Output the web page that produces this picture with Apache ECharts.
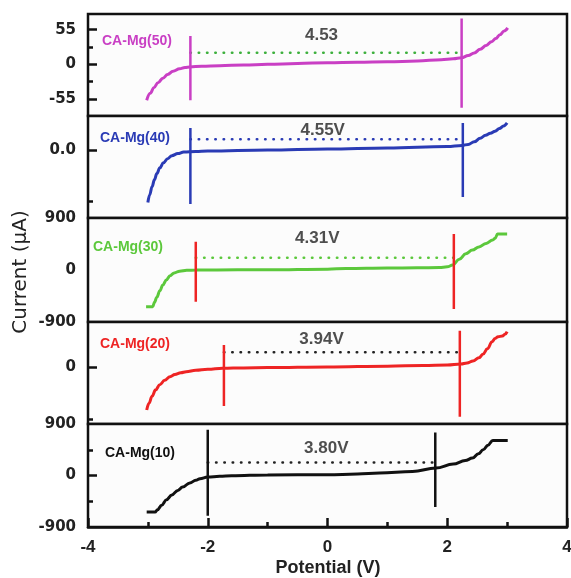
<!DOCTYPE html>
<html>
<head>
<meta charset="utf-8">
<style>
  html, body { margin: 0; padding: 0; background: #ffffff; }
  #chart { width: 571px; height: 578px; }
</style>
<script src="https://cdn.jsdelivr.net/npm/echarts@6/dist/echarts.min.js"></script>
</head>
<body>
<div id="chart"></div>
<script>
// Linear sweep voltammetry of the CA-Mg electrolytes, one stacked panel per sample.

const sampleNames = ['CA-Mg(50)', 'CA-Mg(40)', 'CA-Mg(30)', 'CA-Mg(20)', 'CA-Mg(10)'];

// [potential (V), current] pairs, in each panel's own current scale
const curve50 = [[-3.02, -57], [-2.96, -46], [-2.9, -37], [-2.83, -29], [-2.75, -22], [-2.67, -16],
  [-2.58, -11], [-2.47, -7], [-2.38, -5], [-2.3, -4], [-2.1, -3], [-1.8, -2], [-1.4, -1],
  [-1.0, 0], [-0.5, 1.5], [0, 2.5], [0.5, 3.2], [1.0, 4], [1.5, 5.5], [1.9, 7.5], [2.1, 9],
  [2.24, 10.5], [2.35, 14], [2.45, 18], [2.55, 24], [2.65, 30], [2.74, 36], [2.81, 41],
  [2.88, 47], [2.95, 53], [3.01, 58]];
const curve40 = [[-3.0, -1.03], [-2.97, -0.88], [-2.93, -0.72], [-2.89, -0.58], [-2.85, -0.46],
  [-2.8, -0.35], [-2.74, -0.25], [-2.67, -0.17], [-2.6, -0.11], [-2.5, -0.07], [-2.4, -0.04],
  [-2.2, -0.03], [-2.0, -0.02], [-1.0, 0], [0, 0.02], [1.0, 0.04], [2.0, 0.07], [2.25, 0.09],
  [2.35, 0.11], [2.45, 0.16], [2.55, 0.23], [2.64, 0.29], [2.72, 0.33], [2.8, 0.37],
  [2.87, 0.42], [2.94, 0.47], [3.0, 0.53]];
const curve30 = [[-3.03, -635], [-2.92, -635], [-2.89, -560], [-2.85, -470], [-2.8, -360],
  [-2.75, -260], [-2.69, -170], [-2.63, -100], [-2.56, -50], [-2.47, -20], [-2.35, -6],
  [-2.2, 0], [-1.5, 3], [-1.0, 5], [0, 15], [0.31, 25], [1.0, 33], [1.5, 38], [1.87, 43],
  [2.0, 55], [2.09, 85], [2.2, 185], [2.31, 280], [2.42, 345], [2.53, 400], [2.65, 460],
  [2.76, 519], [2.8, 550], [2.84, 623], [3.0, 623]];
const curve20 = [[-3.02, -739], [-2.98, -620], [-2.93, -500], [-2.87, -390], [-2.8, -300],
  [-2.72, -225], [-2.63, -165], [-2.55, -125], [-2.45, -95], [-2.36, -76], [-2.2, -52],
  [-2.0, -35], [-1.75, -17], [-1.4, -10], [-1.0, -5], [0, 5], [1.0, 20], [1.6, 30], [2.0, 40],
  [2.23, 57], [2.33, 75], [2.43, 110], [2.53, 165], [2.6, 230], [2.67, 320], [2.75, 443],
  [2.8, 500], [2.85, 530], [2.92, 540], [2.97, 575], [3.0, 616]];
const curve10 = [[-3.02, -640], [-2.88, -640], [-2.84, -600], [-2.77, -520], [-2.69, -425],
  [-2.6, -340], [-2.5, -260], [-2.42, -203], [-2.3, -130], [-2.2, -85], [-2.13, -58],
  [-2.0, -28], [-1.8, -12], [-1.6, -5], [-1.0, 10], [0, 12], [0.5, 25], [0.87, 42],
  [1.42, 70], [1.81, 129], [2.1, 200], [2.3, 260], [2.42, 304], [2.52, 380], [2.6, 450],
  [2.68, 530], [2.76, 612], [3.01, 612]];
const curves = [curve50, curve40, curve30, curve20, curve10];

// electrochemical stability window: onset on the cathodic side and its width (V)
const onsetLeft = [-2.29, -2.29, -2.2, -1.73, -2.0];
const windowWidth = [4.53, 4.55, 4.31, 3.94, 3.80];
const windowText = ['4.53', '4.55V', '4.31V', '3.94V', '3.80V'];

// vertical extent of the onset markers [low, high]
const leftMarkerSpan = [[-57, 45], [-1.06, 0.43], [-548, 490], [-670, 386], [-705, 800]];
const rightMarkerSpan = [[-69, 73], [-0.92, 0.53], [-675, 623], [-855, 633], [-550, 750]];
const windowLevel = [18.4, 0.21, 213, 260, 227];
const noteX = [-0.1, -0.08, -0.17, -0.1, -0.02];
const noteY = [46, 0.39, 554, 490, 467];

// current axes
const yRange = [[-82, 80], [-1.333, 0.667], [-900, 900], [-981, 784], [-900, 900]];
const yLabelValues = [[-55, 0, 55], [0], [-900, 0, 900], [0], [-900, 0, 900]];
const yMajorTicks = [[-55, 0, 55], [0], [], [0], [0]];
const yMinorTicks = [[-27.5, 27.5], [-1], [], [-900], [-450, 450]];
// potential axis
const xMajorTicks = [-4, -2, 0, 2, 4];
const xMinorTicks = [-3, -1, 1, 3];

const curveColors = ['#C93FC4', '#2A3BB5', '#5CC83C', '#EE2424', '#111111'];
const markerColors = ['#C93FC4', '#2A3BB5', '#EE2424', '#EE2424', '#111111'];
const dotColors = ['#3DB03D', '#2A3BB5', '#5CC83C', '#222222', '#222222'];

const panelTop = [14, 116, 218, 322, 424];
const panelHeight = [102, 102, 104, 102, 103];
const nameTop = [41, 138, 247, 344, 453];
const nameLeft = [102, 100, 93, 100, 105];

const grids = [], xAxes = [], yAxes = [], series = [], graphics = [];

for (let i = 0; i < 5; i++) {
  grids.push({
    left: 88, right: 4, top: panelTop[i], height: panelHeight[i],
    outerBoundsMode: 'none', containLabel: false,
    show: true, borderColor: '#111', borderWidth: 2.5, backgroundColor: '#fcfcfc'
  });
  yAxes.push({
    type: 'value', gridIndex: i, position: 'left', offset: 0,
    min: yRange[i][0], max: yRange[i][1],
    axisLine: { show: false, onZero: false },
    splitLine: { show: false },
    axisTick: {
      show: yMajorTicks[i].length > 0, inside: true, length: 9,
      customValues: yMajorTicks[i], lineStyle: { color: '#111', width: 2.5 }
    },
    axisLabel: {
      customValues: yLabelValues[i], margin: 12, color: '#222',
      fontFamily: 'DejaVu Sans', fontWeight: 'bold', fontSize: 15,
      formatter: v => (i === 1 ? v.toFixed(1) : String(v))
    }
  });
  yAxes.push({
    type: 'value', gridIndex: i, position: 'left', offset: 0,
    min: yRange[i][0], max: yRange[i][1],
    axisLine: { show: false, onZero: false },
    splitLine: { show: false },
    axisLabel: { show: false },
    axisTick: {
      show: yMinorTicks[i].length > 0, inside: true, length: 5,
      customValues: yMinorTicks[i], lineStyle: { color: '#111', width: 2.5 }
    }
  });
}

// x axes: a major and a minor one per panel; only the bottom panel shows them
for (let i = 0; i < 5; i++) {
  const bottom = i === 4;
  xAxes.push({
    type: 'value', gridIndex: i, min: -4, max: 4, position: 'bottom',
    axisLine: { show: bottom, onZero: false, lineStyle: { color: '#111', width: 2.5 } },
    splitLine: { show: false },
    axisTick: {
      show: bottom, inside: true, length: 9, customValues: xMajorTicks,
      lineStyle: { color: '#111', width: 2.5 }
    },
    axisLabel: {
      show: bottom, customValues: xMajorTicks, margin: 12, color: '#222',
      fontFamily: 'Liberation Sans', fontWeight: 'bold', fontSize: 17
    }
  });
}
for (let i = 0; i < 5; i++) {
  const bottom = i === 4;
  xAxes.push({
    type: 'value', gridIndex: i, min: -4, max: 4, position: 'bottom',
    axisLine: { show: false, onZero: false },
    splitLine: { show: false },
    axisLabel: { show: false },
    axisTick: {
      show: bottom, inside: true, length: 5, customValues: xMinorTicks,
      lineStyle: { color: '#111', width: 2.5 }
    }
  });
}

for (let i = 0; i < 5; i++) {
  const yIdx = 2 * i;
  const right = +(onsetLeft[i] + windowWidth[i]).toFixed(2);

  series.push({
    type: 'line', xAxisIndex: i, yAxisIndex: yIdx, data: curves[i],
    showSymbol: false, smooth: 0.4, smoothMonotone: 'x', silent: true,
    lineStyle: { color: curveColors[i], width: 3 }, z: 3
  });
  series.push({
    type: 'line', xAxisIndex: i, yAxisIndex: yIdx,
    data: [[onsetLeft[i], leftMarkerSpan[i][0]], [onsetLeft[i], leftMarkerSpan[i][1]]],
    showSymbol: false, silent: true,
    lineStyle: { color: markerColors[i], width: 2.5 }, z: 4
  });
  series.push({
    type: 'line', xAxisIndex: i, yAxisIndex: yIdx,
    data: [[right, rightMarkerSpan[i][0]], [right, rightMarkerSpan[i][1]]],
    showSymbol: false, silent: true,
    lineStyle: { color: markerColors[i], width: 2.5 }, z: 4
  });
  series.push({
    type: 'line', xAxisIndex: i, yAxisIndex: yIdx,
    data: [[onsetLeft[i], windowLevel[i]], [right, windowLevel[i]]],
    showSymbol: false, silent: true,
    lineStyle: { color: dotColors[i], width: 2.5, type: [0.5, 7.8], cap: 'round' }, z: 2
  });
  series.push({
    type: 'scatter', xAxisIndex: i, yAxisIndex: yIdx,
    data: [[noteX[i], noteY[i]]], symbolSize: 0, silent: true,
    label: {
      show: true, position: 'inside', formatter: windowText[i], color: '#222',
      fontFamily: 'Liberation Sans', fontWeight: 'bold', fontSize: 17
    }
  });

  graphics.push({
    type: 'text', x: nameLeft[i], y: nameTop[i], silent: true,
    style: {
      text: sampleNames[i], fill: curveColors[i],
      font: 'bold 14px "Liberation Sans"', textAlign: 'left', textVerticalAlign: 'middle'
    }
  });
}

// axis titles
graphics.push({
  type: 'text', x: 21, y: 272, rotation: Math.PI / 2, silent: true,
  style: {
    text: 'Current (μA)', fill: '#222',
    font: '20px "DejaVu Sans"', textAlign: 'center', textVerticalAlign: 'middle'
  }
});
graphics.push({
  type: 'text', x: 328, y: 568, silent: true,
  style: {
    text: 'Potential (V)', fill: '#222',
    font: 'bold 18px "Liberation Sans"', textAlign: 'center', textVerticalAlign: 'middle'
  }
});

const chart = echarts.init(document.getElementById('chart'), null, { renderer: 'canvas' });
chart.setOption({
  animation: false,
  backgroundColor: '#ffffff',
  grid: grids,
  xAxis: xAxes,
  yAxis: yAxes,
  series: series,
  graphic: graphics
});
</script>
</body>
</html>
